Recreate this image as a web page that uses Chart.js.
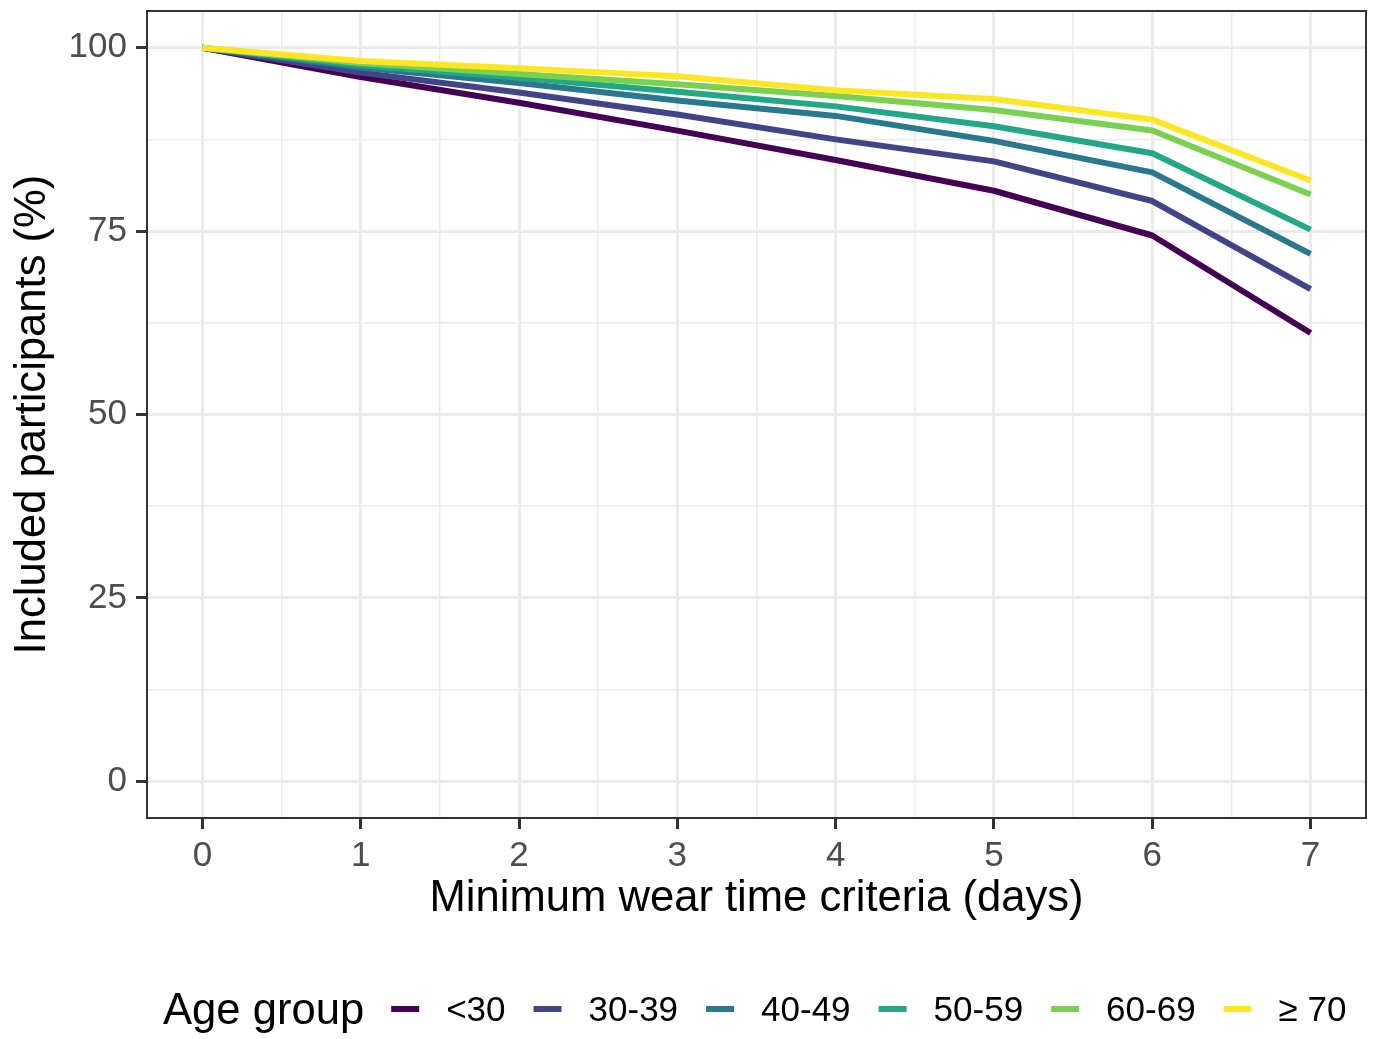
<!DOCTYPE html>
<html>
<head>
<meta charset="utf-8">
<title>Included participants by minimum wear time</title>
<script src="https://cdn.jsdelivr.net/npm/chart.js@4"></script>
<style>
  html, body { margin: 0; padding: 0; background: #fff; }
  canvas { display: block; }
</style>
</head>
<body>
<canvas id="wearChart" width="1375" height="1039"></canvas>
<script>
// Included participants (%) by minimum wear time criteria, per age group

const days = [0, 1, 2, 3, 4, 5, 6, 7];
const ageGroups = ['<30', '30-39', '40-49', '50-59', '60-69', '\u2265 70'];
const under30 = [100, 96.0, 92.5, 88.7, 84.7, 80.5, 74.4, 61.1];
const age30to39 = [100, 96.6, 93.9, 90.9, 87.5, 84.5, 79.1, 67.1];
const age40to49 = [100, 97.3, 95.2, 92.8, 90.7, 87.3, 83.0, 71.9];
const age50to59 = [100, 97.6, 95.9, 94.0, 92.0, 89.3, 85.6, 75.2];
const age60to69 = [100, 97.9, 96.4, 95.0, 93.4, 91.5, 88.7, 80.0];
const age70plus = [100, 98.2, 97.2, 96.1, 94.2, 93.0, 90.2, 81.9];
const xTicks = [0, 1, 2, 3, 4, 5, 6, 7];
const yTicks = [0, 25, 50, 75, 100];

const seriesValues = [under30, age30to39, age40to49, age50to59, age60to69, age70plus];
const viridis = ['#440154', '#414487', '#2A788E', '#22A884', '#7AD151', '#FDE725'];

const FONT = '"Liberation Sans", Arial, Helvetica, sans-serif';

const datasets = ageGroups.map((name, i) => ({
  label: name,
  data: days.map((d, k) => ({ x: d, y: seriesValues[i][k] })),
  borderColor: viridis[i],
  backgroundColor: viridis[i],
  borderWidth: 6,
  borderCapStyle: 'butt',
  borderJoinStyle: 'round',
  pointRadius: 0,
  tension: 0,
  fill: false,
  order: ageGroups.length - 1 - i // older groups drawn on top, like ggplot
}));

function isMajor(list, v) {
  return list.some((t) => Math.abs(t - v) < 1e-6);
}

// major ticks plus a minor one halfway between each pair (ggplot minor grid)
function withMinor(list) {
  const out = [];
  list.forEach((v, i) => {
    out.push(v);
    if (i < list.length - 1) out.push((v + list[i + 1]) / 2);
  });
  return out.map((value) => ({ value }));
}

// panel border + inline legend at the bottom
const panelAndLegend = {
  id: 'panelAndLegend',
  afterDraw(chart) {
    const { ctx, chartArea: a } = chart;
    ctx.save();
    ctx.strokeStyle = '#333333';
    ctx.lineWidth = 2;
    ctx.strokeRect(a.left, a.top, a.right - a.left, a.bottom - a.top);

    // legend
    const yMid = 1009;
    ctx.textBaseline = 'alphabetic';
    ctx.fillStyle = '#000';
    ctx.font = '43.6px ' + FONT;
    let x = 163;
    ctx.fillText('Age group', x, 1024);
    x += ctx.measureText('Age group').width + 27;
    ctx.font = '35px ' + FONT;
    chart.data.datasets.forEach((ds) => {
      ctx.strokeStyle = ds.borderColor;
      ctx.lineWidth = 6;
      ctx.beginPath();
      ctx.moveTo(x, yMid);
      ctx.lineTo(x + 28, yMid);
      ctx.stroke();
      x += 28 + 27;
      ctx.fillStyle = '#000';
      ctx.fillText(ds.label, x, 1021);
      x += ctx.measureText(ds.label).width + 28;
    });
    ctx.restore();
  }
};

const ctx = document.getElementById('wearChart').getContext('2d');
const chart = new Chart(ctx, {
  type: 'line',
  data: { datasets },
  plugins: [panelAndLegend],
  options: {
    responsive: false,
    animation: false,
    layout: { padding: { top: 11, right: 9, left: 0, bottom: 109 } },
    plugins: {
      legend: { display: false },
      tooltip: { enabled: false }
    },
    scales: {
      x: {
        type: 'linear',
        min: -0.35,
        max: 7.35,
        bounds: 'data',
        afterBuildTicks: (s) => { s.ticks = withMinor(xTicks); },
        afterFit: (s) => { s.height = 112; s.paddingLeft = 0; s.paddingRight = 0; },
        border: { display: false },
        grid: {
          color: '#EBEBEB',
          lineWidth: (c) => isMajor(xTicks, c.tick.value) ? 3 : 1.5,
          tickColor: (c) => isMajor(xTicks, c.tick.value) ? '#333333' : 'rgba(0,0,0,0)',
          tickWidth: 3,
          tickLength: 11
        },
        ticks: {
          autoSkip: false,
          maxRotation: 0,
          padding: 6,
          color: '#4D4D4D',
          font: { family: FONT, size: 35 },
          callback: (v) => isMajor(xTicks, v) ? String(v) : ''
        },
        title: {
          display: true,
          text: 'Minimum wear time criteria (days)',
          color: '#000',
          font: { family: FONT, size: 43.6 },
          padding: { top: 0, bottom: 5 }
        }
      },
      y: {
        type: 'linear',
        min: -5,
        max: 105,
        bounds: 'data',
        afterBuildTicks: (s) => { s.ticks = withMinor(yTicks); },
        afterFit: (s) => { s.width = 147; s.paddingTop = 0; s.paddingBottom = 0; },
        border: { display: false },
        grid: {
          color: '#EBEBEB',
          lineWidth: (c) => isMajor(yTicks, c.tick.value) ? 3 : 1.5,
          tickColor: (c) => isMajor(yTicks, c.tick.value) ? '#333333' : 'rgba(0,0,0,0)',
          tickWidth: 3,
          tickLength: 11
        },
        ticks: {
          autoSkip: false,
          padding: 9,
          color: '#4D4D4D',
          font: { family: FONT, size: 35 },
          callback: (v) => isMajor(yTicks, v) ? String(v) : ''
        },
        title: {
          display: true,
          text: 'Included participants (%)',
          color: '#000',
          font: { family: FONT, size: 43.6 },
          padding: { top: 7, bottom: 0 }
        }
      }
    }
  }
});
</script>
</body>
</html>
